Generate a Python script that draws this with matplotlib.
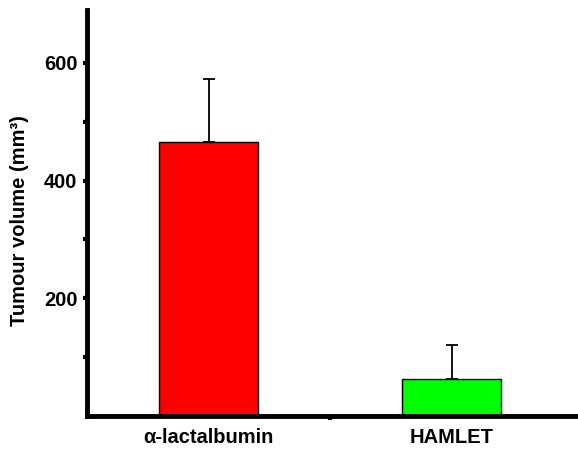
import matplotlib.pyplot as plt

plt.rcParams['font.family'] = ['Liberation Sans', 'DejaVu Sans']

groups = ["α-lactalbumin", "HAMLET"]
volumes = [465, 63]
errors = [108, 57]
colors = ["#ff0000", "#00ff00"]

fig = plt.figure(figsize=(5.78, 4.49), dpi=100)
ax = fig.add_axes([0.1505, 0.0735, 0.8495, 0.9045])

x = [0, 1]
ax.bar(x, volumes, width=0.41, color=colors, edgecolor="black", linewidth=1.0,
       yerr=[[0, 0], errors], capsize=4.5,
       error_kw=dict(ecolor="black", elinewidth=1.3, capthick=1.3))

ax.set_xlim(-0.5, 1.52)
ax.set_ylim(0, 690)

# category labels, plus a small tick between the two bars
ax.set_xticks(x)
ax.set_xticklabels(groups, fontsize=14.5, fontweight="bold")
ax.set_xticks([0.5], minor=True)
ax.tick_params(axis="x", which="major", length=0, pad=9)
ax.tick_params(axis="x", which="minor", length=3, width=3, direction="out")

ax.set_yticks([200, 400, 600])
ax.set_yticks([100, 300, 500], minor=True)
ax.tick_params(axis="y", which="major", length=3, width=3, direction="out",
               labelsize=14.5, pad=4)
ax.tick_params(axis="y", which="minor", length=3, width=3, direction="out")
for lbl in ax.get_yticklabels():
    lbl.set_fontweight("bold")

ax.set_ylabel("Tumour volume (mm³)", fontsize=14.5, fontweight="bold")
ax.yaxis.set_label_coords(-0.118, 0.48)

for side in ["top", "right"]:
    ax.spines[side].set_visible(False)
ax.spines["left"].set_linewidth(3.5)
ax.spines["bottom"].set_linewidth(3.5)

fig.savefig("out.png", dpi=100)
